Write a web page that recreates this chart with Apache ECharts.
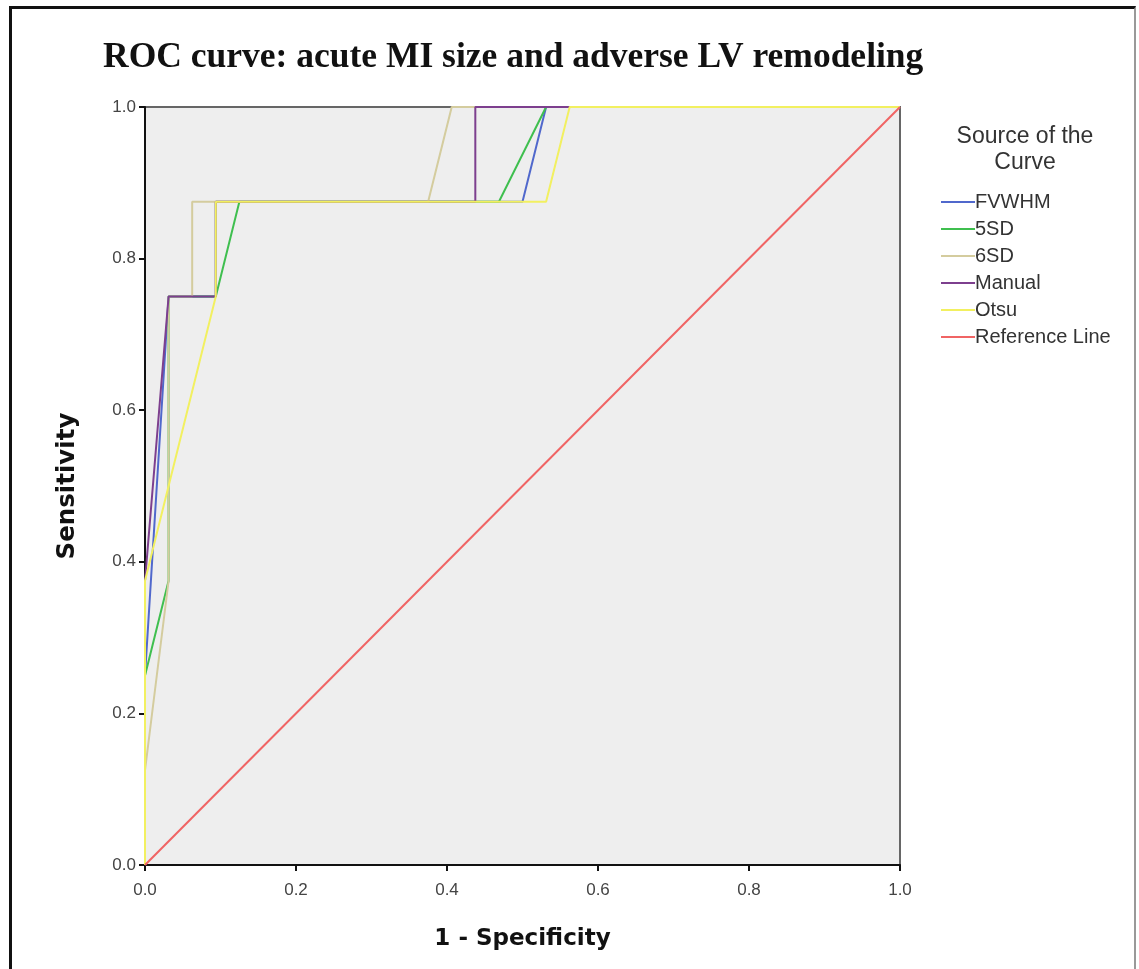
<!DOCTYPE html>
<html>
<head>
<meta charset="utf-8">
<script src="https://cdn.jsdelivr.net/npm/echarts@6/dist/echarts.min.js"></script>
<style>
html,body{margin:0;padding:0;background:#fff;}
#frame{position:absolute;left:9px;top:6px;width:1127px;height:963px;border-left:3px solid #111;border-top:3px solid #111;border-right:2px solid #999;box-sizing:border-box;}
#chart{position:absolute;left:0;top:0;width:1139px;height:969px;}
</style>
</head>
<body>
<div id="frame"></div>
<div id="chart"></div>
<script>
// Tick labels
var tickValues = [0.0, 0.2, 0.4, 0.6, 0.8, 1.0];

// ROC curves: 1 - specificity (x) and sensitivity (y)
var fvwhmX  = [0, 0,    0.03125, 0.09375, 0.09375, 0.5,   0.53125, 1];
var fvwhmY  = [0, 0.25, 0.75,    0.75,    0.875,   0.875, 1,       1];

var sd5X    = [0, 0,    0.03125, 0.03125, 0.09375, 0.125, 0.46875, 0.53125, 1];
var sd5Y    = [0, 0.25, 0.375,   0.75,    0.75,    0.875, 0.875,   1,       1];

var sd6X    = [0, 0,     0.03125, 0.03125, 0.0625, 0.0625, 0.375, 0.40625, 1];
var sd6Y    = [0, 0.125, 0.375,   0.75,    0.75,   0.875,  0.875, 1,       1];

var manualX = [0, 0,     0.03125, 0.09375, 0.09375, 0.4375, 0.4375, 1];
var manualY = [0, 0.375, 0.75,    0.75,    0.875,   0.875,  1,      1];

var otsuX   = [0, 0,     0.09375, 0.09375, 0.53125, 0.5625, 1];
var otsuY   = [0, 0.375, 0.75,    0.875,   0.875,   1,      1];

var refX    = [0, 1];
var refY    = [0, 1];

var seriesNames = ['FVWHM', '5SD', '6SD', 'Manual', 'Otsu', 'Reference Line'];
var seriesColors = ['#5068cc', '#3fbf4f', '#d4cc9e', '#7d3f8e', '#f2f060', '#f06464'];
var xs = [fvwhmX, sd5X, sd6X, manualX, otsuX, refX];
var ys = [fvwhmY, sd5Y, sd6Y, manualY, otsuY, refY];

function pairs(a, b) { return a.map(function (v, i) { return [v, b[i]]; }); }

var chart = echarts.init(document.getElementById('chart'), null, {renderer: 'canvas'});
var series = seriesNames.map(function (n, i) {
  return {
    name: n, type: 'line', data: pairs(xs[i], ys[i]),
    showSymbol: false, symbol: 'none', animation: false,
    lineStyle: {color: seriesColors[i], width: 2},
    itemStyle: {color: seriesColors[i]}
  };
});

var axisCommon = {
  type: 'value', min: tickValues[0], max: tickValues[tickValues.length - 1], interval: 0.2,
  axisLine: {show: true, onZero: false, lineStyle: {color: '#111', width: 2}},
  axisTick: {show: true, length: 6, lineStyle: {color: '#111', width: 2}},
  splitLine: {show: false},
  axisLabel: {
    color: '#444', fontFamily: 'Liberation Sans', fontSize: 17,
    formatter: function (v) { return v.toFixed(1); }
  },
  nameLocation: 'middle',
  nameTextStyle: {color: '#111', fontFamily: 'DejaVu Sans', fontWeight: 'bold', fontSize: 23}
};

chart.setOption({
  animation: false,
  title: [
    {text: 'ROC curve: acute MI size and adverse LV remodeling', left: 98, top: 35,
     textStyle: {fontFamily: 'Liberation Serif', fontWeight: 'bold', fontSize: 35.5, color: '#111'}},
    {text: 'Source of the\nCurve', left: 1020, top: 119, textAlign: 'center',
     textStyle: {fontFamily: 'Liberation Sans', fontWeight: 'normal', fontSize: 23, color: '#333', lineHeight: 26}}
  ],
  legend: {
    orient: 'vertical', left: 936, top: 187,
    itemWidth: 34, itemHeight: 2, itemGap: 7,
    icon: 'rect',
    textStyle: {fontFamily: 'Liberation Sans', fontSize: 20, color: '#333', padding: [0, 0, 0, -5]},
    data: seriesNames
  },
  grid: {
    left: 145, top: 107, right: 239, bottom: 104,
    show: true, backgroundColor: '#eeeeee', borderColor: '#666', borderWidth: 2
  },
  xAxis: Object.assign({}, axisCommon, {name: '1 - Specificity', nameGap: 63,
    axisLabel: Object.assign({}, axisCommon.axisLabel, {margin: 17})}),
  yAxis: Object.assign({}, axisCommon, {name: 'Sensitivity', nameGap: 65,
    nameTextStyle: Object.assign({}, axisCommon.nameTextStyle, {fontSize: 24.5}),
    axisLabel: Object.assign({}, axisCommon.axisLabel, {margin: 9})}),
  series: series
});
</script>
</body>
</html>
